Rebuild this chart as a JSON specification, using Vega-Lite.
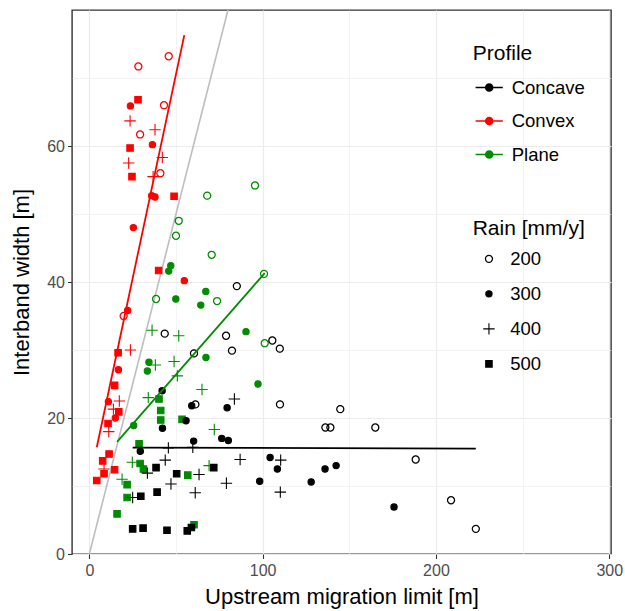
{
  "$schema": "https://vega.github.io/schema/vega-lite/v6.json",
  "width": 539,
  "height": 544,
  "autosize": {"type": "none"},
  "padding": {"left": 72, "top": 10, "right": 14, "bottom": 57},
  "background": "white",
  "config": {
    "font": "Liberation Sans",
    "view": {"stroke": "#333333", "strokeWidth": 1.4},
    "axis": {
      "domain": false,
      "gridColor": "#EBEBEB",
      "tickColor": "#333333",
      "tickSize": 4.5,
      "tickWidth": 1.1,
      "labelColor": "#4D4D4D",
      "labelFontSize": 16,
      "titleFontSize": 22,
      "titleFontWeight": "normal",
      "titleColor": "#000000"
    },
    "legend": {
      "titleFontWeight": "normal",
      "titleColor": "#000000",
      "titleFontSize": 21,
      "labelFontSize": 18.5,
      "labelColor": "#000000",
      "padding": 0
    }
  },
  "datasets": {
    "points": [
      {"x": 28.3, "y": 71.7, "profile": "Convex", "rain": 200},
      {"x": 45.8, "y": 73.2, "profile": "Convex", "rain": 200},
      {"x": 43.1, "y": 66.0, "profile": "Convex", "rain": 200},
      {"x": 29.3, "y": 61.7, "profile": "Convex", "rain": 200},
      {"x": 41.0, "y": 56.0, "profile": "Convex", "rain": 200},
      {"x": 19.8, "y": 35.0, "profile": "Convex", "rain": 200},
      {"x": 23.7, "y": 65.9, "profile": "Convex", "rain": 300},
      {"x": 36.4, "y": 60.2, "profile": "Convex", "rain": 300},
      {"x": 36.0, "y": 52.7, "profile": "Convex", "rain": 300},
      {"x": 37.9, "y": 52.5, "profile": "Convex", "rain": 300},
      {"x": 25.4, "y": 48.0, "profile": "Convex", "rain": 300},
      {"x": 54.8, "y": 40.2, "profile": "Convex", "rain": 300},
      {"x": 22.1, "y": 35.8, "profile": "Convex", "rain": 300},
      {"x": 16.8, "y": 27.1, "profile": "Convex", "rain": 300},
      {"x": 11.0, "y": 22.4, "profile": "Convex", "rain": 300},
      {"x": 15.0, "y": 20.0, "profile": "Convex", "rain": 300},
      {"x": 23.5, "y": 63.7, "profile": "Convex", "rain": 400},
      {"x": 37.9, "y": 62.4, "profile": "Convex", "rain": 400},
      {"x": 42.1, "y": 58.3, "profile": "Convex", "rain": 400},
      {"x": 22.7, "y": 57.5, "profile": "Convex", "rain": 400},
      {"x": 36.8, "y": 55.5, "profile": "Convex", "rain": 400},
      {"x": 23.7, "y": 30.0, "profile": "Convex", "rain": 400},
      {"x": 17.3, "y": 22.5, "profile": "Convex", "rain": 400},
      {"x": 13.9, "y": 21.3, "profile": "Convex", "rain": 400},
      {"x": 11.2, "y": 18.0, "profile": "Convex", "rain": 400},
      {"x": 8.5, "y": 12.5, "profile": "Convex", "rain": 400},
      {"x": 28.1, "y": 66.8, "profile": "Convex", "rain": 500},
      {"x": 23.5, "y": 59.7, "profile": "Convex", "rain": 500},
      {"x": 24.6, "y": 55.5, "profile": "Convex", "rain": 500},
      {"x": 48.9, "y": 52.6, "profile": "Convex", "rain": 500},
      {"x": 40.0, "y": 41.7, "profile": "Convex", "rain": 500},
      {"x": 16.6, "y": 29.6, "profile": "Convex", "rain": 500},
      {"x": 14.6, "y": 24.8, "profile": "Convex", "rain": 500},
      {"x": 17.0, "y": 20.9, "profile": "Convex", "rain": 500},
      {"x": 10.8, "y": 19.2, "profile": "Convex", "rain": 500},
      {"x": 11.4, "y": 14.7, "profile": "Convex", "rain": 500},
      {"x": 7.7, "y": 13.7, "profile": "Convex", "rain": 500},
      {"x": 14.6, "y": 12.4, "profile": "Convex", "rain": 500},
      {"x": 8.5, "y": 11.8, "profile": "Convex", "rain": 500},
      {"x": 4.3, "y": 10.8, "profile": "Convex", "rain": 500},
      {"x": 51.6, "y": 49.0, "profile": "Plane", "rain": 200},
      {"x": 50.0, "y": 46.8, "profile": "Plane", "rain": 200},
      {"x": 38.5, "y": 37.5, "profile": "Plane", "rain": 200},
      {"x": 68.0, "y": 52.7, "profile": "Plane", "rain": 200},
      {"x": 95.6, "y": 54.2, "profile": "Plane", "rain": 200},
      {"x": 70.6, "y": 44.0, "profile": "Plane", "rain": 200},
      {"x": 100.8, "y": 41.2, "profile": "Plane", "rain": 200},
      {"x": 73.7, "y": 37.2, "profile": "Plane", "rain": 200},
      {"x": 101.2, "y": 31.0, "profile": "Plane", "rain": 200},
      {"x": 47.0, "y": 42.4, "profile": "Plane", "rain": 300},
      {"x": 45.8, "y": 41.6, "profile": "Plane", "rain": 300},
      {"x": 49.9, "y": 37.5, "profile": "Plane", "rain": 300},
      {"x": 64.3, "y": 36.6, "profile": "Plane", "rain": 300},
      {"x": 67.2, "y": 38.6, "profile": "Plane", "rain": 300},
      {"x": 34.4, "y": 28.2, "profile": "Plane", "rain": 300},
      {"x": 33.5, "y": 26.9, "profile": "Plane", "rain": 300},
      {"x": 67.3, "y": 28.9, "profile": "Plane", "rain": 300},
      {"x": 90.4, "y": 32.7, "profile": "Plane", "rain": 300},
      {"x": 97.3, "y": 25.0, "profile": "Plane", "rain": 300},
      {"x": 25.6, "y": 18.9, "profile": "Plane", "rain": 300},
      {"x": 36.2, "y": 32.9, "profile": "Plane", "rain": 400},
      {"x": 51.6, "y": 32.1, "profile": "Plane", "rain": 400},
      {"x": 38.1, "y": 27.8, "profile": "Plane", "rain": 400},
      {"x": 48.9, "y": 28.3, "profile": "Plane", "rain": 400},
      {"x": 50.8, "y": 26.2, "profile": "Plane", "rain": 400},
      {"x": 34.0, "y": 23.0, "profile": "Plane", "rain": 400},
      {"x": 65.0, "y": 24.2, "profile": "Plane", "rain": 400},
      {"x": 72.1, "y": 18.3, "profile": "Plane", "rain": 400},
      {"x": 69.1, "y": 13.0, "profile": "Plane", "rain": 400},
      {"x": 24.8, "y": 13.5, "profile": "Plane", "rain": 400},
      {"x": 18.9, "y": 11.0, "profile": "Plane", "rain": 400},
      {"x": 40.2, "y": 22.8, "profile": "Plane", "rain": 500},
      {"x": 41.2, "y": 21.1, "profile": "Plane", "rain": 500},
      {"x": 41.2, "y": 19.7, "profile": "Plane", "rain": 500},
      {"x": 53.5, "y": 19.8, "profile": "Plane", "rain": 500},
      {"x": 28.7, "y": 16.2, "profile": "Plane", "rain": 500},
      {"x": 29.3, "y": 13.3, "profile": "Plane", "rain": 500},
      {"x": 31.2, "y": 12.5, "profile": "Plane", "rain": 500},
      {"x": 56.8, "y": 11.6, "profile": "Plane", "rain": 500},
      {"x": 21.8, "y": 10.2, "profile": "Plane", "rain": 500},
      {"x": 21.8, "y": 8.3, "profile": "Plane", "rain": 500},
      {"x": 16.0, "y": 5.9, "profile": "Plane", "rain": 500},
      {"x": 60.4, "y": 4.3, "profile": "Plane", "rain": 500},
      {"x": 43.5, "y": 32.4, "profile": "Concave", "rain": 200},
      {"x": 60.4, "y": 29.5, "profile": "Concave", "rain": 200},
      {"x": 85.1, "y": 39.4, "profile": "Concave", "rain": 200},
      {"x": 78.9, "y": 32.1, "profile": "Concave", "rain": 200},
      {"x": 82.3, "y": 29.9, "profile": "Concave", "rain": 200},
      {"x": 105.6, "y": 31.4, "profile": "Concave", "rain": 200},
      {"x": 109.9, "y": 30.2, "profile": "Concave", "rain": 200},
      {"x": 61.2, "y": 22.0, "profile": "Concave", "rain": 200},
      {"x": 110.0, "y": 22.0, "profile": "Concave", "rain": 200},
      {"x": 144.8, "y": 21.3, "profile": "Concave", "rain": 200},
      {"x": 136.2, "y": 18.6, "profile": "Concave", "rain": 200},
      {"x": 139.1, "y": 18.6, "profile": "Concave", "rain": 200},
      {"x": 165.0, "y": 18.6, "profile": "Concave", "rain": 200},
      {"x": 188.3, "y": 13.9, "profile": "Concave", "rain": 200},
      {"x": 208.7, "y": 7.9, "profile": "Concave", "rain": 200},
      {"x": 223.0, "y": 3.7, "profile": "Concave", "rain": 200},
      {"x": 59.1, "y": 21.8, "profile": "Concave", "rain": 300},
      {"x": 79.5, "y": 21.5, "profile": "Concave", "rain": 300},
      {"x": 60.2, "y": 16.6, "profile": "Concave", "rain": 300},
      {"x": 76.4, "y": 17.0, "profile": "Concave", "rain": 300},
      {"x": 80.2, "y": 16.7, "profile": "Concave", "rain": 300},
      {"x": 104.3, "y": 14.2, "profile": "Concave", "rain": 300},
      {"x": 108.5, "y": 12.5, "profile": "Concave", "rain": 300},
      {"x": 98.3, "y": 10.7, "profile": "Concave", "rain": 300},
      {"x": 128.0, "y": 10.6, "profile": "Concave", "rain": 300},
      {"x": 42.0, "y": 24.0, "profile": "Concave", "rain": 300},
      {"x": 55.8, "y": 19.6, "profile": "Concave", "rain": 300},
      {"x": 42.2, "y": 18.5, "profile": "Concave", "rain": 300},
      {"x": 29.4, "y": 15.1, "profile": "Concave", "rain": 300},
      {"x": 136.0, "y": 12.5, "profile": "Concave", "rain": 300},
      {"x": 142.4, "y": 13.0, "profile": "Concave", "rain": 300},
      {"x": 175.8, "y": 6.9, "profile": "Concave", "rain": 300},
      {"x": 83.7, "y": 22.8, "profile": "Concave", "rain": 400},
      {"x": 59.7, "y": 15.7, "profile": "Concave", "rain": 400},
      {"x": 87.0, "y": 13.9, "profile": "Concave", "rain": 400},
      {"x": 110.4, "y": 13.8, "profile": "Concave", "rain": 400},
      {"x": 63.3, "y": 11.7, "profile": "Concave", "rain": 400},
      {"x": 79.1, "y": 10.4, "profile": "Concave", "rain": 400},
      {"x": 61.1, "y": 9.0, "profile": "Concave", "rain": 400},
      {"x": 110.2, "y": 9.1, "profile": "Concave", "rain": 400},
      {"x": 45.6, "y": 15.6, "profile": "Concave", "rain": 400},
      {"x": 43.8, "y": 13.8, "profile": "Concave", "rain": 400},
      {"x": 33.5, "y": 11.9, "profile": "Concave", "rain": 400},
      {"x": 47.1, "y": 10.3, "profile": "Concave", "rain": 400},
      {"x": 25.0, "y": 8.3, "profile": "Concave", "rain": 400},
      {"x": 71.8, "y": 12.7, "profile": "Concave", "rain": 500},
      {"x": 58.9, "y": 3.9, "profile": "Concave", "rain": 500},
      {"x": 38.5, "y": 12.7, "profile": "Concave", "rain": 500},
      {"x": 50.4, "y": 11.8, "profile": "Concave", "rain": 500},
      {"x": 39.1, "y": 9.1, "profile": "Concave", "rain": 500},
      {"x": 29.7, "y": 8.5, "profile": "Concave", "rain": 500},
      {"x": 25.0, "y": 3.7, "profile": "Concave", "rain": 500},
      {"x": 31.0, "y": 3.8, "profile": "Concave", "rain": 500},
      {"x": 44.8, "y": 3.5, "profile": "Concave", "rain": 500},
      {"x": 56.5, "y": 3.4, "profile": "Concave", "rain": 500}
    ],
    "fits": [
      {"x": 25.0, "y": 15.65, "profile": "Concave"},
      {"x": 223.0, "y": 15.5, "profile": "Concave"},
      {"x": 4.3, "y": 15.7, "profile": "Convex"},
      {"x": 54.8, "y": 76.3, "profile": "Convex"},
      {"x": 16.0, "y": 16.5, "profile": "Plane"},
      {"x": 101.2, "y": 41.3, "profile": "Plane"}
    ],
    "identity": [
      {"x": 0, "y": 0},
      {"x": 80, "y": 80}
    ]
  },
  "encoding": {
    "x": {
      "field": "x",
      "type": "quantitative",
      "scale": {"domain": [-10, 301], "nice": false, "zero": false},
      "axis": {
        "title": "Upstream migration limit [m]",
        "values": [0, 50, 100, 150, 200, 250, 300],
        "labelExpr": "datum.value % 100 === 0 ? datum.label : ''",
        "labelPadding": 4,
        "tickOpacity": {"condition": {"test": "datum.value % 100 !== 0", "value": 0}, "value": 1},
        "gridWidth": {"condition": {"test": "datum.value % 100 !== 0", "value": 0.6}, "value": 1.2},
        "titleX": 269.5,
        "titleY": 49,
        "titleAlign": "center",
        "titleBaseline": "alphabetic"
      }
    },
    "y": {
      "field": "y",
      "type": "quantitative",
      "scale": {"domain": [0, 80], "nice": false, "zero": false},
      "axis": {
        "title": "Interband width [m]",
        "values": [0, 10, 20, 30, 40, 50, 60, 70],
        "labelExpr": "datum.value % 20 === 0 ? datum.label : ''",
        "labelPadding": 3,
        "tickOpacity": {"condition": {"test": "datum.value % 20 !== 0", "value": 0}, "value": 1},
        "gridWidth": {"condition": {"test": "datum.value % 20 !== 0", "value": 0.6}, "value": 1.2},
        "titleX": -43.7,
        "titleY": 272,
        "titleAngle": -90,
        "titleAlign": "center",
        "titleBaseline": "alphabetic"
      }
    }
  },
  "layer": [
    {
      "data": {"name": "identity"},
      "mark": {"type": "line", "color": "#BEBEBE", "strokeWidth": 1.6, "clip": true},
      "encoding": {}
    },
    {
      "data": {"name": "points"},
      "mark": {"type": "point", "filled": false, "opacity": 1, "strokeWidth": 1.1},
      "encoding": {
        "stroke": {
          "field": "profile",
          "type": "nominal",
          "scale": {"domain": ["Concave", "Convex", "Plane"], "range": ["#000000", "#FF0000", "#008B00"]},
          "legend": {
            "title": "Profile",
            "orient": "none",
            "legendX": 400.7,
            "legendY": 33,
            "symbolType": "M-1,0H1M-0.26,0A0.26,0.26,0,1,1,0.26,0A0.26,0.26,0,1,1,-0.26,0Z",
            "symbolSize": 740,
            "symbolStrokeWidth": 1.5,
            "symbolOffset": 2,
            "labelOffset": 8,
            "rowPadding": 9.5,
            "titlePadding": 9
          }
        },
        "fill": {
          "field": "profile",
          "type": "nominal",
          "scale": {"domain": ["Concave", "Convex", "Plane"], "range": ["#000000", "#FF0000", "#008B00"]}
        },
        "shape": {
          "field": "rain",
          "type": "nominal",
          "scale": {"domain": [200, 300, 400, 500], "range": ["M1,0A1,1,0,1,1,-1,0A1,1,0,1,1,1,0ZM0.96,0A0.96,0.96,0,1,0,-0.96,0A0.96,0.96,0,1,0,0.96,0Z", "circle", "M-1,0H1M0,-1V1", "square"]},
          "legend": {
            "title": "Rain [mm/y]",
            "orient": "none",
            "legendX": 400.7,
            "legendY": 207.6,
            "symbolOffset": 7,
            "labelOffset": 12,
            "rowPadding": 16,
            "titlePadding": 11,
            "symbolStrokeWidth": 1.1,
            "symbolFillColor": "black",
            "symbolStrokeColor": "black"
          }
        },
        "size": {
          "field": "rain",
          "type": "nominal",
          "scale": {"type": "ordinal", "domain": [200, 300, 400, 500], "range": [52, 40, 130, 42]},
          "legend": {
            "title": "Rain [mm/y]",
            "orient": "none",
            "legendX": 400.7,
            "legendY": 207.6,
            "symbolOffset": 7,
            "labelOffset": 12,
            "rowPadding": 16,
            "titlePadding": 11,
            "symbolStrokeWidth": 1.1,
            "symbolFillColor": "black",
            "symbolStrokeColor": "black"
          }
        }
      }
    },
    {
      "data": {"name": "fits"},
      "mark": {"type": "line", "strokeWidth": 1.8},
      "encoding": {
        "stroke": {"field": "profile", "type": "nominal"},
        "detail": {"field": "profile", "type": "nominal"}
      }
    }
  ]
}
